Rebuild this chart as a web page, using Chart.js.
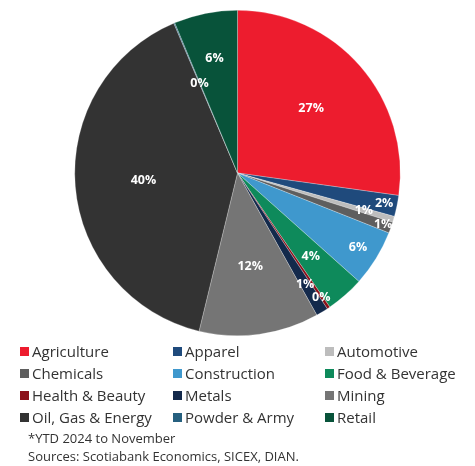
<!DOCTYPE html>
<html>
<head>
<meta charset="utf-8">
<script src="https://cdn.jsdelivr.net/npm/chart.js@4.4.0/dist/chart.umd.min.js"></script>
<style>
    body { margin: 0; background: #fff; width: 475px; height: 466px; overflow: hidden; font-family: 'Open Sans', sans-serif; color: #333; }
    #wrap { position: absolute; left: 0; top: 0; width: 475px; height: 346px; }
    #legend { position: absolute; left: 20px; top: 340px; width: 455px; display: grid; grid-template-columns: 153px 152px 150px; row-gap: 0; }
    .lg-item { display: flex; align-items: center; height: 22px; font-size: 15px; white-space: nowrap; }
    .lg-box { width: 9px; height: 9px; margin-right: 3px; flex: none; }
    .note { position: absolute; left: 28px; font-size: 13px; color: #333; }
</style>
</head>
<body>
<div id="wrap"><canvas id="pieChart"></canvas></div>
<div id="legend"></div>
<div class="note" style="top: 429px;">*YTD 2024 to November</div>
<div class="note" style="top: 447px;">Sources: Scotiabank Economics, SICEX, DIAN.</div>
<script>
// export shares by sector, % of total
const sectors = ['Agriculture', 'Apparel', 'Automotive', 'Chemicals', 'Construction', 'Food & Beverage',
    'Health & Beauty', 'Metals', 'Mining', 'Oil, Gas & Energy', 'Powder & Army', 'Retail'];
const shares = [27.2, 2.1, 0.6, 1.1, 5.6, 3.8, 0.3, 1.2, 11.9, 39.8, 0.1, 6.3];

const sectorColors = ['#ed1c2e', '#1f4a7c', '#bdbdbd', '#5e5e5e', '#3f98cd', '#0e8a5b',
    '#8c1019', '#13294b', '#757575', '#333333', '#26607f', '#08533a'];
// how far out each percentage label sits, as a fraction of the radius
const labelRadius = [0.6, 0.92, 0.81, 0.95, 0.87, 0.68, 0.92, 0.8, 0.58, 0.58, 0.6, 0.72];

const sliceLabels = {
    id: 'sliceLabels',
    afterDatasetsDraw(chart) {
        const ctx = chart.ctx;
        const meta = chart.getDatasetMeta(0);
        ctx.save();
        ctx.font = 'bold 12.5px "Open Sans"';
        ctx.fillStyle = '#fff';
        ctx.textAlign = 'center';
        ctx.textBaseline = 'middle';
        meta.data.forEach((arc, i) => {
            const mid = (arc.startAngle + arc.endAngle) / 2;
            const r = arc.outerRadius * labelRadius[i];
            const x = arc.x + Math.cos(mid) * r;
            const y = arc.y + Math.sin(mid) * r;
            ctx.fillText(Math.round(shares[i]) + '%', x, y);
        });
        ctx.restore();
    }
};

const pieChart = new Chart(document.getElementById('pieChart'), {
    type: 'pie',
    data: {
        labels: sectors,
        datasets: [{
            data: shares,
            backgroundColor: sectorColors,
            borderColor: 'rgba(255,255,255,0.5)',
            borderWidth: 0.5
        }]
    },
    options: {
        responsive: true,
        maintainAspectRatio: false,
        animation: false,
        layout: { padding: 10 },
        plugins: {
            legend: { display: false },
            tooltip: { enabled: false }
        }
    },
    plugins: [sliceLabels]
});

// legend grid, three columns
const legend = document.getElementById('legend');
sectors.forEach((name, i) => {
    const item = document.createElement('div');
    item.className = 'lg-item';
    item.innerHTML = `<span class="lg-box" style="background:${sectorColors[i]}"></span><span>${name}</span>`;
    legend.appendChild(item);
});
</script>
</body>
</html>
